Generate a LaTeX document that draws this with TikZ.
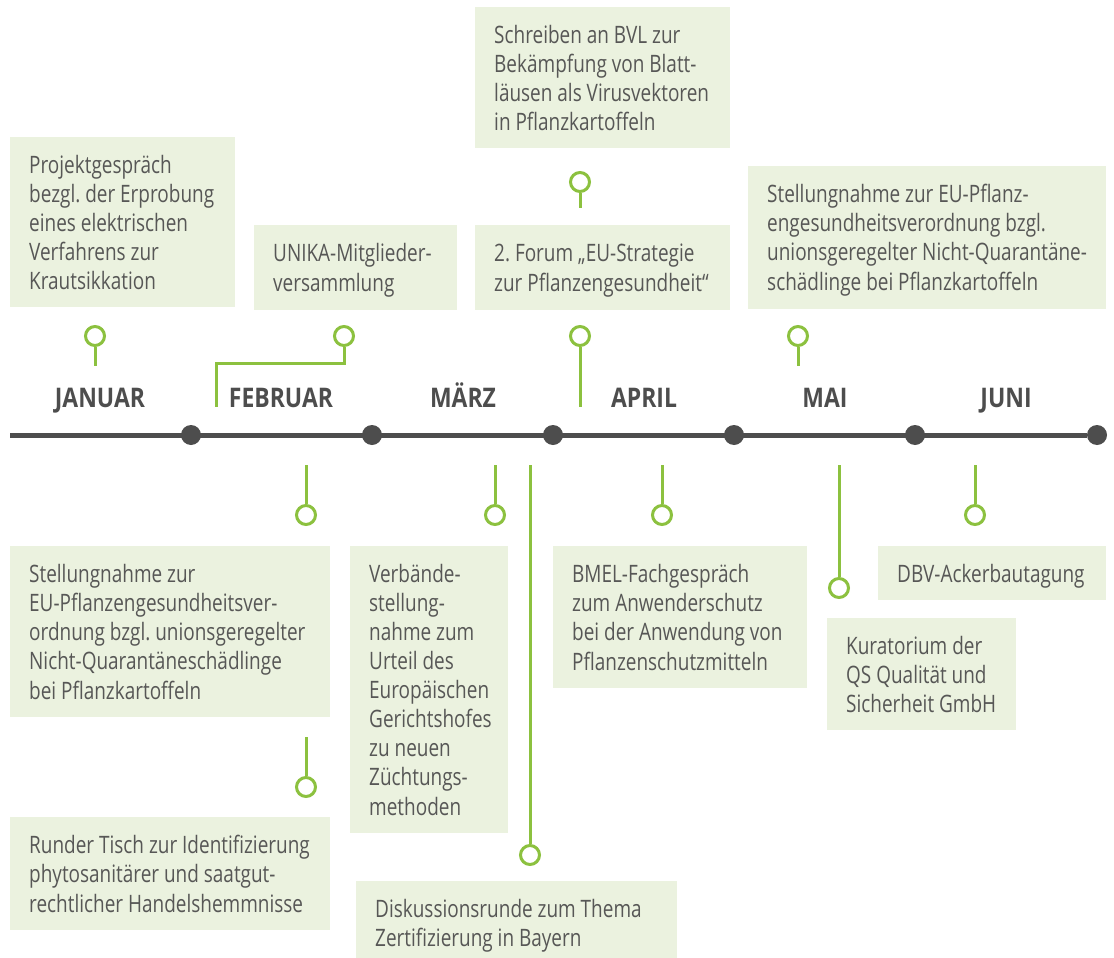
\documentclass[tikz,border=0pt]{standalone}
\usepackage{fontspec}
\setmainfont{Open Sans}[FakeStretch=0.79]
\newfontfamily\monthfont{Open Sans}[FakeStretch=0.85]
\usepackage{xcolor}
\definecolor{tlgreen}{HTML}{8CC13F}
\definecolor{tlbox}{HTML}{EBF2DF}
\definecolor{tldark}{HTML}{4D4D4D}
\definecolor{tltext}{HTML}{575756}
\newcommand{\tstrut}{\rule[-5.5pt]{0pt}{29pt}}
\newcommand{\tstart}{\spaceskip=0pt\xspaceskip=0pt\hyphenpenalty=10000\tstrut}
\frenchspacing

\begin{document}
\begin{tikzpicture}[x=1pt, y=-1pt,
	event/.style={fill=tlbox, anchor=north west, align=left, inner xsep=19pt, inner ysep=12.5pt, text=tltext, font=\fontsize{24}{29}\selectfont, execute at begin node=\tstart, execute at end node=\tstrut},
	ring/.style={circle, draw=tlgreen, line width=3pt, fill=white, minimum size=19pt, inner sep=0pt},
	pinline/.style={draw=tlgreen, line width=3pt},
	month/.style={anchor=base, text=tldark, font=\fontsize{27}{32}\monthfont\bfseries},
	tldot/.style={circle, fill=tldark, minimum size=20pt, inner sep=0pt}]
	\useasboundingbox (0,0) rectangle (1114,958);
	% boxes above the line
	\node[event, text width=187pt] (evA) at (10,137) {Projektgespräch\\bezgl. der Erprobung\\eines elektrischen\\Verfahrens zur\\Krautsikkation};
	\node[event, text width=165pt] (evB) at (254,225) {UNIKA-Mitglieder-\\versammlung};
	\node[event, text width=217pt] (evC) at (475,7) {Schreiben an BVL zur\\Bekämpfung von Blatt-\\läusen als Virusvektoren\\in Pflanzkartoffeln};
	\node[event, text width=217pt] (evD) at (475,225) {2. Forum „EU-Strategie\\zur Pflanzengesundheit“};
	\node[event, text width=320pt] (evE) at (748,166) {Stellungnahme zur EU-Pflanz-\\engesundheitsverordnung bzgl.\\unionsgeregelter Nicht-Quarantäne-\\schädlinge bei Pflanzkartoffeln};
	% boxes below the line
	\node[event, text width=282pt] (evF) at (10,546) {Stellungnahme zur\\EU-Pflanzengesundheitsver-\\ordnung bzgl. unionsgeregelter\\Nicht-Quarantäneschädlinge\\bei Pflanzkartoffeln};
	\node[event, text width=282pt] (evG) at (10,817) {Runder Tisch zur Identifizierung\\phytosanitärer und saatgut-\\rechtlicher Handelshemmnisse};
	\node[event, text width=120pt] (evH) at (350,546) {Verbände-\\stellung-\\nahme zum\\Urteil des\\Europäischen\\Gerichtshofes\\zu neuen\\Züchtungs-\\methoden};
	\node[event, text width=283pt] (evI) at (356,881) {Diskussionsrunde zum Thema\\Zertifizierung in Bayern};
	\node[event, text width=216pt] (evJ) at (553,546) {BMEL-Fachgespräch\\zum Anwenderschutz\\bei der Anwendung von\\Pflanzenschutzmitteln};
	\node[event, text width=151pt] (evK) at (827,618) {Kuratorium der\\QS Qualität und\\Sicherheit GmbH};
	\node[event, text width=190pt] (evL) at (878,546) {DBV-Ackerbautagung};
	% time line
	\coordinate (t0) at (10,435);
	\node[tldot] (d1) at (191,435) {};
	\node[tldot] (d2) at (372,435) {};
	\node[tldot] (d3) at (553,435) {};
	\node[tldot] (d4) at (734,435) {};
	\node[tldot] (d5) at (915,435) {};
	\node[tldot] (d6) at (1097,435) {};
	\draw[tldark, line width=5pt] (t0) -- (d6);
	\node[month] (mJan) at (100,407) {JANUAR};
	\node[month] (mFeb) at (281,407) {FEBRUAR};
	\node[month] (mMar) at (463,407) {MÄRZ};
	\node[month] (mApr) at (644,407) {APRIL};
	\node[month] (mMai) at (825,407) {MAI};
	\node[month] (mJun) at (1006,407) {JUNI};
	% pins above
	\node[ring] (pA) at (95,336) {};
	\coordinate (sA) at (95,366);
	\draw[pinline] (pA) -- (sA);
	\node[ring] (pB) at (344,336) {};
	\coordinate (kB) at (216,363);
	\coordinate (sB) at (216,407);
	\draw[pinline] (pB) |- (kB) -- (sB);
	\node[ring] (pC) at (580,182) {};
	\coordinate (sC) at (580,208);
	\draw[pinline] (pC) -- (sC);
	\node[ring] (pD) at (580,336) {};
	\coordinate (sD) at (580,407);
	\draw[pinline] (pD) -- (sD);
	\node[ring] (pE) at (798,336) {};
	\coordinate (sE) at (798,366);
	\draw[pinline] (pE) -- (sE);
	% pins below
	\node[ring] (pF) at (306,515) {};
	\coordinate (sF) at (306,465);
	\draw[pinline] (sF) -- (pF);
	\node[ring] (pG) at (306,787) {};
	\coordinate (sG) at (306,737);
	\draw[pinline] (sG) -- (pG);
	\node[ring] (pH) at (495,515) {};
	\coordinate (sH) at (495,465);
	\draw[pinline] (sH) -- (pH);
	\node[ring] (pI) at (530,855) {};
	\coordinate (sI) at (530,465);
	\draw[pinline] (sI) -- (pI);
	\node[ring] (pJ) at (662,515) {};
	\coordinate (sJ) at (662,465);
	\draw[pinline] (sJ) -- (pJ);
	\node[ring] (pK) at (839,588) {};
	\coordinate (sK) at (839,465);
	\draw[pinline] (sK) -- (pK);
	\node[ring] (pL) at (975,515) {};
	\coordinate (sL) at (975,465);
	\draw[pinline] (sL) -- (pL);
\end{tikzpicture}
\end{document}
